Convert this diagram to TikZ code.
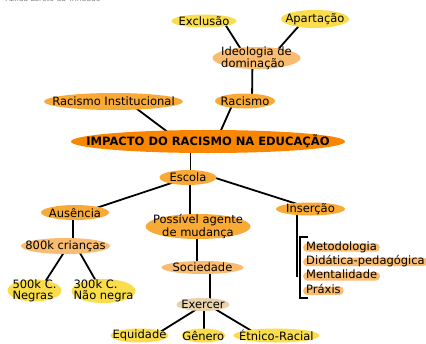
\documentclass[tikz,border=0pt]{standalone}
\usepackage{fontspec}
\setmainfont{DejaVu Sans}
\usepackage{tikz}
\usetikzlibrary{shapes.geometric, positioning, backgrounds}
\definecolor{ideaYellow}{RGB}{250,221,76}
\definecolor{topicOrange}{RGB}{249,170,54}
\definecolor{detailPeach}{RGB}{249,188,112}
\definecolor{centralOrange}{RGB}{250,134,0}
\definecolor{actionTan}{RGB}{232,210,170}
\newcommand{\mapfont}{\fontsize{11.5}{11}\selectfont}
\tikzset{
  bubble/.style={ellipse, inner xsep=-60pt, inner ysep=-20pt, align=center, font=\mapfont},
  idea/.style={bubble, fill=ideaYellow},
  topic/.style={bubble, fill=topicOrange},
  detail/.style={bubble, fill=detailPeach},
  central/.style={bubble, fill=centralOrange, font=\mapfont\bfseries},
  action/.style={bubble, fill=actionTan},
  item/.style={rectangle, rounded corners=4pt, fill=detailPeach, text height=5.5pt, text depth=0.5pt, inner xsep=3pt, inner ysep=1.2pt, anchor=base west, font=\mapfont},
  link/.style={line width=1.8pt, black}
}

\begin{document}
\begin{tikzpicture}[x=1pt, y=-1pt]
  \useasboundingbox (0,0) rectangle (426,343);
  \node (autora) [anchor=base west, text=gray, font=\fontsize{7.5}{8}\selectfont] at (2,1.5) {Azilda Loreto da Trindade};

  % Ramo superior
  \node (excl) [idea, minimum width=65pt, minimum height=13pt] at (204,21) {Exclusão};
  \node (apart) [idea, minimum width=68pt, minimum height=18pt] at (315,19) {Apartação};
  \node (ideo) [detail, align=left, minimum width=88pt, minimum height=22pt] at (256.5,58) {Ideologia de\\dominação};
  \node (racismo) [topic, minimum width=60pt, minimum height=15pt] at (245,101) {Racismo};
  \node (inst) [topic, minimum width=139pt, minimum height=17pt] at (113.5,101.5) {Racismo Institucional};

  % Tema central
  \node (impacto) [central, minimum width=274pt, minimum height=23pt] at (208,141.5) {IMPACTO DO RACISMO NA EDUCAÇÃO};
  \node (escola) [topic, minimum width=57pt, minimum height=15pt] at (188,177.5) {Escola};

  % Ramo da ausencia
  \node (ausencia) [topic, minimum width=68pt, minimum height=15pt] at (75,212.5) {Ausência};
  \node (criancas) [detail, minimum width=89pt, minimum height=16pt] at (65.5,246) {800k crianças};
  \node (negras) [idea, align=left, minimum width=54pt, minimum height=22pt] at (34.5,290.5) {500k C.\\Negras};
  \node (naonegra) [idea, align=left, minimum width=64pt, minimum height=24pt] at (103.5,291) {300k C.\\Não negra};

  % Ramo do agente de mudanca
  \node (agente) [topic, minimum width=105pt, minimum height=25pt] at (198,226.5) {Possível agente\\de mudança};
  \node (sociedade) [detail, minimum width=82pt, minimum height=13pt] at (202.5,267.5) {Sociedade};
  \node (exercer) [action, minimum width=53pt, minimum height=13pt] at (203,304.5) {Exercer};
  \node (equidade) [idea, minimum width=58pt, minimum height=14pt] at (139.5,335.5) {Equidade};
  \node (genero) [idea, minimum width=44pt, minimum height=14pt] at (203.3,335.5) {Gênero};
  \node (etnico) [idea, minimum width=86pt, minimum height=14pt] at (276.3,335.5) {Étnico-Racial};

  % Ramo da insercao
  \node (insercao) [topic, minimum width=69pt, minimum height=13pt] at (310.5,209) {Inserção};
  \coordinate (tail) at (296.7,277);
  \coordinate (brtop) at (300,237);
  \coordinate (brbot) at (300,298);
  \node (meto) [item] at (303,250) {Metodologia};
  \node (dida) [item] at (303,264.4) {Didática-pedagógica};
  \node (ment) [item] at (303,278.8) {Mentalidade};
  \node (praxis) [item] at (303,293.2) {Práxis};

  % Ligacoes
  \begin{scope}[on background layer]
    \draw [link] ([xshift=19pt]excl.center) -- ([xshift=-10pt]ideo.center);
    \draw [link] ([xshift=-10pt]apart.center) -- ([xshift=14pt]ideo.center);
    \draw [link] ([xshift=-4pt]ideo.center) -- ([xshift=7pt]racismo.center);
    \draw [link] ([xshift=-11pt]racismo.center) -- ([xshift=8pt]impacto.center);
    \draw [link] ([xshift=13.6pt]inst.center) -- ([xshift=-27.7pt]impacto.center);
    \draw [link] ([xshift=-17.5pt]impacto.center) -- ([xshift=2.5pt]escola.center);
    \draw [link] (escola.center) -- ([xshift=7.7pt]ausencia.center);
    \draw [link] ([xshift=26pt]escola.center) -- ([xshift=2.3pt]insercao.center);
    \draw [link] ([xshift=2pt]escola.center) -- ([xshift=-8pt]agente.center);
    \draw [link] ([xshift=-2.3pt]ausencia.center) -- ([xshift=7.2pt]criancas.center);
    \draw [link] ([xshift=2.6pt]criancas.center) -- ([xshift=5pt]negras.center);
    \draw [link] ([xshift=10.5pt]criancas.center) -- ([xshift=-1.8pt]naonegra.center);
    \draw [link] ([xshift=-0.7pt]agente.center) -- ([xshift=-5.2pt]sociedade.center);
    \draw [link] ([xshift=7.5pt]sociedade.center) -- ([xshift=7pt]exercer.center);
    \draw [link] ([xshift=1.2pt]exercer.center) -- ([xshift=15pt]equidade.center);
    \draw [link] ([xshift=1pt]exercer.center) -- ([xshift=0.7pt]genero.center);
    \draw [link] ([xshift=4.5pt]exercer.center) -- ([xshift=-17pt]etnico.center);
    \draw [link] ([xshift=-13.8pt]insercao.center) -- (tail);
    \draw [link] ([xshift=8pt]brtop) -- (brtop) -- (brbot) -- ([xshift=8pt]brbot);
  \end{scope}
\end{tikzpicture}
\end{document}
